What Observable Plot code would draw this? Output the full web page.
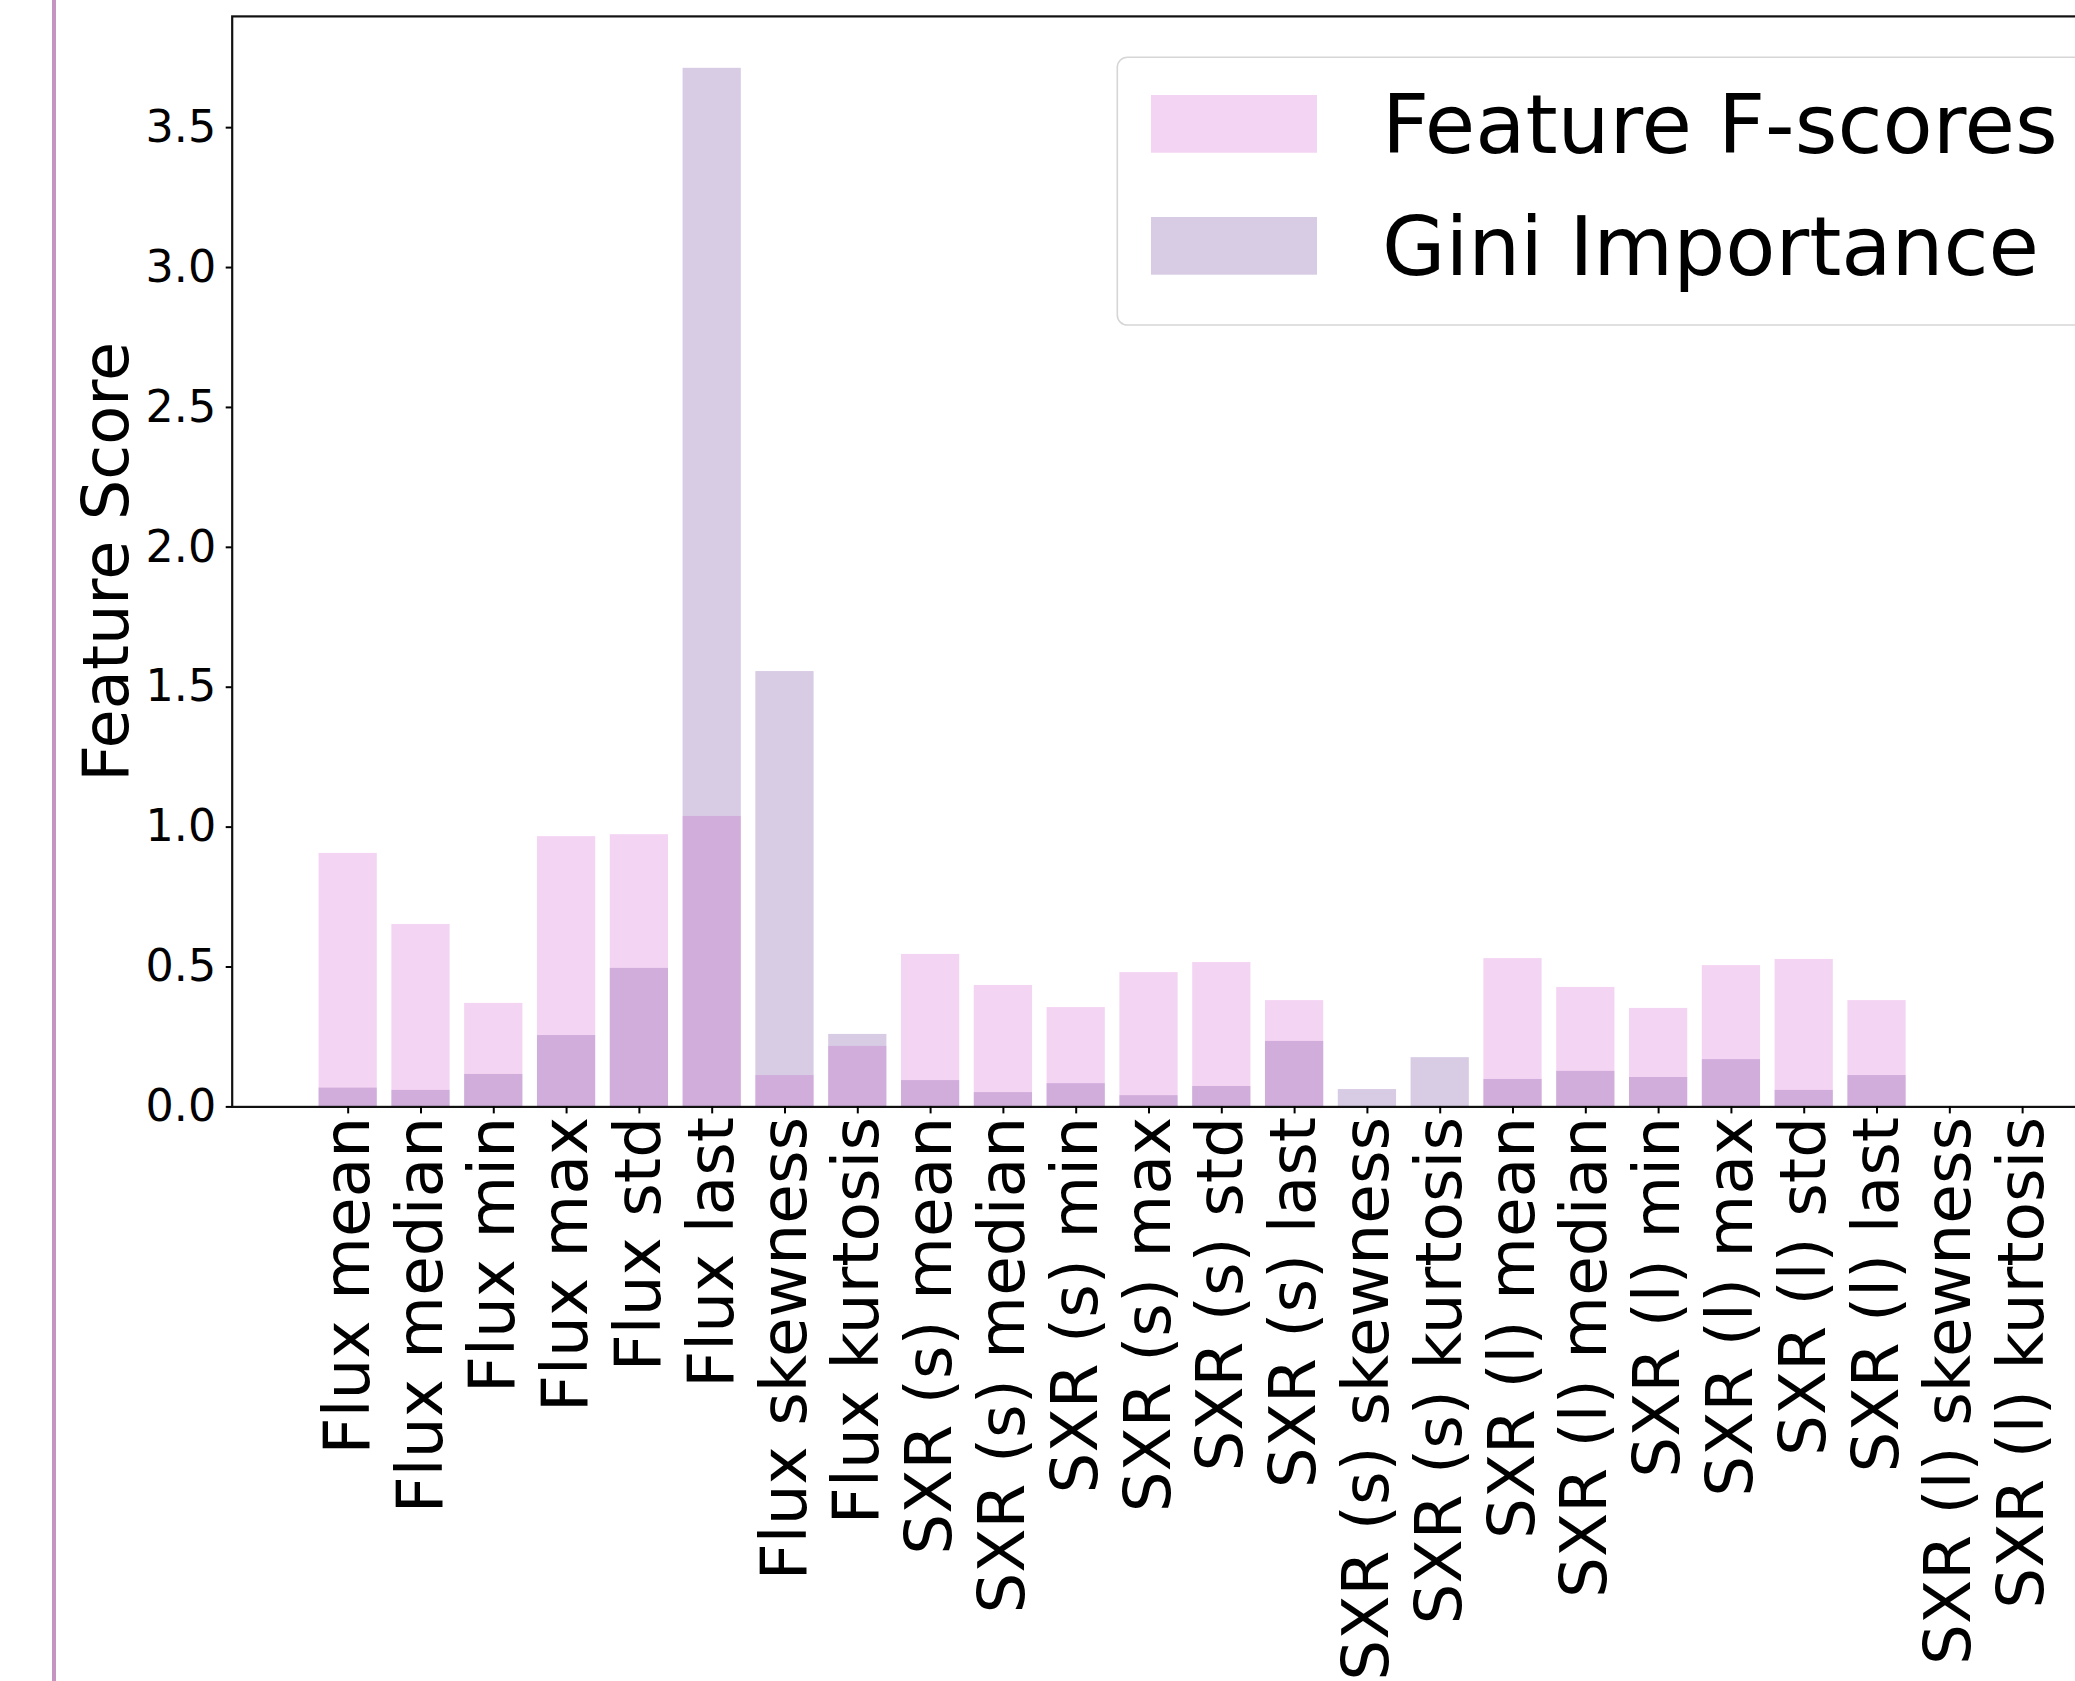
<!DOCTYPE html>
<html>
<head>
<meta charset="utf-8">
<script src="https://cdn.jsdelivr.net/npm/d3@7"></script>
<script src="https://cdn.jsdelivr.net/npm/@observablehq/plot@0.6"></script>
<style>
  html, body { margin: 0; padding: 0; background: white; }
  #wrap { position: relative; width: 2075px; height: 1681px; overflow: hidden; background: white; }
  #wrap svg { max-width: none !important; }
  #edge { position: absolute; left: 52px; top: 0; width: 4px; height: 1681px; background: #c594c1; }
</style>
</head>
<body>
<div id="wrap"><div id="edge"></div></div>
<script>
// ---- data ----
const categories = [
  "Flux mean", "Flux median", "Flux min", "Flux max", "Flux std", "Flux last",
  "Flux skewness", "Flux kurtosis",
  "SXR (s) mean", "SXR (s) median", "SXR (s) min", "SXR (s) max", "SXR (s) std",
  "SXR (s) last", "SXR (s) skewness", "SXR (s) kurtosis",
  "SXR (l) mean", "SXR (l) median", "SXR (l) min", "SXR (l) max", "SXR (l) std",
  "SXR (l) last", "SXR (l) skewness", "SXR (l) kurtosis"
];
const fScores = [0.906, 0.652, 0.370, 0.966, 0.973, 1.038, 0.112, 0.216,
  0.545, 0.434, 0.355, 0.480, 0.516, 0.380, 0, 0,
  0.530, 0.427, 0.352, 0.505, 0.527, 0.380, 0, 0];
const giniImportance = [0.067, 0.059, 0.116, 0.255, 0.495, 3.712, 1.556, 0.259,
  0.094, 0.051, 0.083, 0.040, 0.073, 0.234, 0.062, 0.176,
  0.098, 0.127, 0.105, 0.169, 0.059, 0.112, 0, 0];
const yTicks = [0, 0.5, 1.0, 1.5, 2.0, 2.5, 3.0, 3.5];
const seriesNames = ["Feature F-scores", "Gini Importance"];
const seriesColors = ["orchid", "#7f52a4"];
const yTitle = "Feature Score";
const yMax = 3.712 * 1.05;

const fData = categories.map((c, i) => ({feature: c, value: fScores[i]}));
const gData = categories.map((c, i) => ({feature: c, value: giniImportance[i]}));

const font = "DejaVu Sans";
const svg = Plot.plot({
  width: 2140,
  height: 1681,
  marginLeft: 231.7,
  marginRight: 1.9,
  marginTop: 15.9,
  marginBottom: 574.6,
  style: {fontFamily: font, fontSize: "44.4px", color: "black", background: "white", maxWidth: "none"},
  x: {type: "band", domain: categories, paddingInner: 0.2, paddingOuter: 1.193, align: 0.5, round: false, label: null},
  y: {domain: [0, yMax], label: null},
  marks: [
    Plot.barY(fData, {x: "feature", y: "value", fill: seriesColors[0], fillOpacity: 0.3}),
    Plot.barY(gData, {x: "feature", y: "value", fill: seriesColors[1], fillOpacity: 0.3}),
    Plot.frame({stroke: "#111", strokeWidth: 2.2}),
    Plot.axisY(yTicks, {tickFormat: d => d.toFixed(1), fontSize: 44.4, tickSize: 6, tickPadding: 10, strokeWidth: 2, label: null}),
    Plot.axisX({tickRotate: -90, fontSize: 64.5, tickSize: 7, tickPadding: 3, strokeWidth: 2, label: null, textAnchor: "end", lineAnchor: "middle"}),
    Plot.text([yTitle], {frameAnchor: "left", rotate: -90, dx: -104.4, lineAnchor: "bottom", textAnchor: "middle", fontSize: 63.8, fill: "black"})
  ]
});
document.getElementById("wrap").appendChild(svg);

// legend (inside the axes, top-right, clipped by the figure edge like the reference)
const lg = d3.select(svg).append("g").attr("font-family", font).attr("text-anchor", "start");
lg.append("rect").attr("x", 1117.3).attr("y", 57.3).attr("width", 985).attr("height", 267.7)
  .attr("rx", 10).attr("fill", "white").attr("stroke", "#d6d6d6").attr("stroke-width", 1.6);
seriesNames.forEach((name, i) => {
  const top = 95 + i * 122;
  lg.append("rect").attr("x", 1151).attr("y", top).attr("width", 166).attr("height", 57.7)
    .attr("fill", seriesColors[i]).attr("fill-opacity", 0.3);
  lg.append("text").attr("x", 1382).attr("y", top + 57.7).attr("font-size", 82)
    .attr("text-anchor", "start").attr("fill", "black").text(name);
});
</script>
</body>
</html>
